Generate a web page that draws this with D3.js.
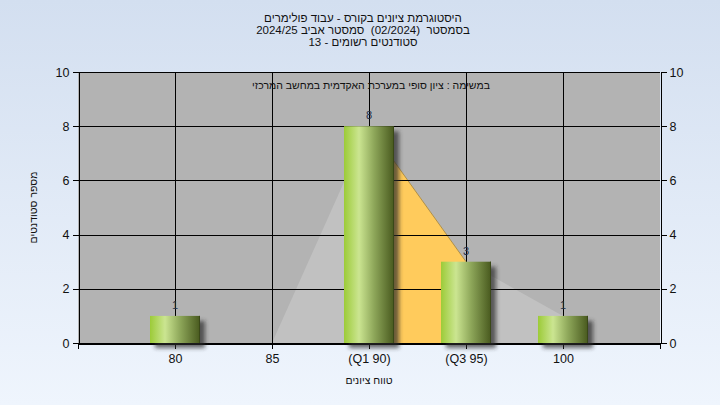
<!DOCTYPE html>
<html><head><meta charset="utf-8">
<script src="https://cdn.jsdelivr.net/npm/d3@7"></script>
<style>html,body{margin:0;padding:0;}svg{display:block;font-family:"Liberation Sans",Arial,sans-serif;}</style>
</head><body>
<svg id="c" width="720" height="405"></svg>
<script>
const titleLines = ["היסטוגרמת ציונים בקורס - עבוד פולימרים", "בסמסטר  (02/2024)  סמסטר אביב 2024/25", "סטודנטים רשומים - 13"];
const subtitle = "במשימה : ציון סופי במערכת האקדמית במחשב המרכזי";
const xTitle = "טווח ציונים";
const yTitle = "מספר סטודנטים";
const grades = [80, 85, 90, 95, 100];
const categories = ["80", "85", "(Q1 90)", "(Q3 95)", "100"];
const counts = [1, 0, 8, 3, 1];
const curveValues = [0, 0, 8, 3, 1];
const quartiles = [90, 95];
const yTicks = [0, 2, 4, 6, 8, 10];
const xDomain = [75, 105];

const svg = d3.select("#c");
const W = 720, H = 405;
const L = 78, R = 660, T = 72, B = 343;
const x = d3.scaleLinear().domain(xDomain).range([L, R]);
const y = d3.scaleLinear().domain([0, 10]).range([B, T]);

const defs = svg.append("defs");
const bg = defs.append("linearGradient").attr("id", "bg").attr("x1", 0).attr("y1", 0).attr("x2", 0).attr("y2", 1);
bg.append("stop").attr("offset", "0%").attr("stop-color", "#d3dff0");
bg.append("stop").attr("offset", "100%").attr("stop-color", "#eff5fd");
const bar = defs.append("linearGradient").attr("id", "bar").attr("x1", 0).attr("y1", 0).attr("x2", 1).attr("y2", 0);
[["0%", "#9ccb38"], ["30%", "#cbe591"], ["60%", "#8ea75a"], ["100%", "#48591e"]].forEach(s =>
  bar.append("stop").attr("offset", s[0]).attr("stop-color", s[1]));
const f = defs.append("filter").attr("id", "sh").attr("x", "-30%").attr("y", "-30%").attr("width", "160%").attr("height", "160%");
f.append("feGaussianBlur").attr("stdDeviation", 2);

svg.append("rect").attr("width", W).attr("height", H).attr("fill", "url(#bg)");

// titles
const tt = svg.append("g").attr("font-size", 11.5).attr("fill", "#111").attr("text-anchor", "middle");
titleLines.forEach((t, i) => tt.append("text").attr("x", 363).attr("y", 22 + i * 12)
  .style("direction", "rtl").style("unicode-bidi", "embed").style("white-space", "pre").text(t));

// plot background
svg.append("rect").attr("x", L).attr("y", T).attr("width", R - L).attr("height", B - T).attr("fill", "#b3b3b3");

const pts = grades.map((g, i) => ({g, v: curveValues[i]}));
const area = d3.area().x(d => x(d.g)).y0(y(0)).y1(d => y(d.v));
svg.append("path").datum(pts).attr("d", area).attr("fill", "#c1c1c1");
const qpts = pts.filter(d => d.g >= quartiles[0] && d.g <= quartiles[1]);
svg.append("path").datum(qpts).attr("d", area).attr("fill", "#ffcb5c");
svg.append("path").datum(qpts).attr("d", d3.line().x(d => x(d.g)).y(d => y(d.v)))
  .attr("fill", "none").attr("stroke", "#b09048").attr("stroke-width", 1);

// gridlines
const grid = svg.append("g").attr("stroke", "#000").attr("shape-rendering", "crispEdges");
yTicks.forEach(t => grid.append("line").attr("x1", L).attr("x2", R).attr("y1", Math.round(y(t)) + .5).attr("y2", Math.round(y(t)) + .5));
grades.forEach(g => grid.append("line").attr("x1", Math.round(x(g)) + .5).attr("x2", Math.round(x(g)) + .5).attr("y1", T).attr("y2", B));

// axes
const axL = d3.axisLeft(y).tickValues(yTicks).tickSize(6).tickPadding(3);
const axR = d3.axisRight(y).tickValues(yTicks).tickSize(6).tickPadding(3);
const axB = d3.axisBottom(x).tickValues([75, ...grades, 105]).tickSize(5).tickPadding(6)
  .tickFormat(v => { const i = grades.indexOf(v); return i >= 0 ? categories[i] : ""; });
[[axL, `translate(${L + .5},0)`], [axR, `translate(${R + .5},0)`], [axB, `translate(0,${B + .5})`]].forEach(([a, tr]) => {
  const g = svg.append("g").attr("transform", tr).attr("shape-rendering", "crispEdges").call(a);
  g.selectAll("text").attr("font-size", 12.5).attr("fill", "#111").attr("font-family", '"Liberation Sans",Arial,sans-serif');
  g.selectAll("line").attr("stroke", "#000");
  g.select(".domain").attr("stroke", "#000");
});
svg.append("line").attr("x1", L + .5).attr("x2", L + .5).attr("y1", B).attr("y2", B + 5).attr("stroke", "#000").attr("shape-rendering", "crispEdges");
svg.append("line").attr("x1", R + .5).attr("x2", R + .5).attr("y1", B).attr("y2", B + 5).attr("stroke", "#000").attr("shape-rendering", "crispEdges");

// bars
const bw = 50;
const data = grades.map((g, i) => ({g, c: counts[i]})).filter(d => d.c > 0);
svg.append("g").selectAll("rect").data(data).join("rect")
  .attr("x", d => x(d.g) - bw / 2 + 5).attr("y", d => y(d.c) + 5).attr("width", bw).attr("height", d => y(0) - y(d.c))
  .attr("fill", "#2a2a2a").attr("opacity", 0.7).attr("filter", "url(#sh)");
svg.append("g").selectAll("rect").data(data).join("rect")
  .attr("x", d => x(d.g) - bw / 2).attr("y", d => y(d.c)).attr("width", bw).attr("height", d => y(0) - y(d.c))
  .attr("fill", "url(#bar)");
svg.append("g").selectAll("line").data(data).join("line")
  .attr("x1", d => x(d.g) + bw / 2 - .5).attr("x2", d => x(d.g) + bw / 2 - .5).attr("y1", d => y(d.c)).attr("y2", y(0))
  .attr("stroke", "#3a4818").attr("stroke-width", 1);

// value labels
svg.append("g").attr("font-size", 11).attr("fill", "#1e2e48").attr("text-anchor", "middle")
  .selectAll("text").data(data).join("text")
  .attr("x", d => x(d.g)).attr("y", d => y(d.c) - 7).text(d => d.c);

// subtitle
svg.append("text").attr("x", 371).attr("y", 89).attr("font-size", 10.5).attr("fill", "#111").attr("text-anchor", "middle")
  .style("direction", "rtl").style("unicode-bidi", "embed").text(subtitle);

// axis titles
svg.append("text").attr("x", 369).attr("y", 384).attr("font-size", 10.5).attr("fill", "#111").attr("text-anchor", "middle")
  .style("direction", "rtl").text(xTitle);
svg.append("text").attr("transform", `translate(37,${(T + B) / 2}) rotate(-90)`).attr("font-size", 10.5).attr("fill", "#111")
  .attr("text-anchor", "middle").style("direction", "rtl").text(yTitle);
</script>
</body></html>
